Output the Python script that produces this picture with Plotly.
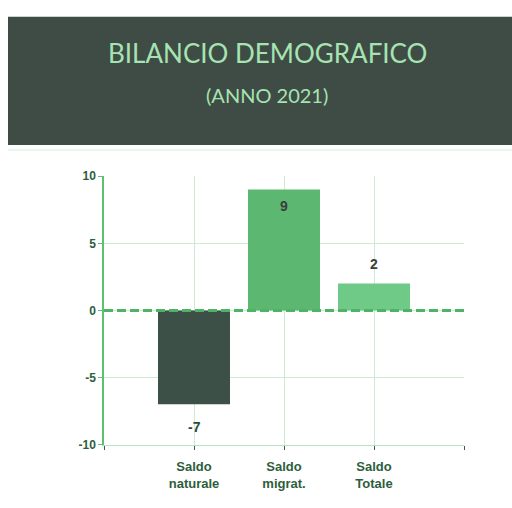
import plotly.graph_objects as go

categories = ["Saldo<br>naturale", "Saldo<br>migrat.", "Saldo<br>Totale"]
positions = [1, 2, 3]
values = [-7, 9, 2]
bar_colors = ["#3d5047", "#5cb770", "#6fca88"]
label_text = ["-7", "9", "2"]
label_shift = [-23, -16, 20]
label_colors = ["#2d4a38", "#3a3f3c", "#3a3f3c"]
y_ticks = [-10, -5, 0, 5, 10]
y_tick_text = ["-10", "-5", "0", "5", "10"]
title = "BILANCIO DEMOGRAFICO"
subtitle = "(ANNO 2021)"

fig = go.Figure()
fig.add_trace(go.Bar(
    x=positions, y=values, width=0.8,
    marker=dict(color=bar_colors, line=dict(width=0)),
    hoverinfo="skip",
))

annotations = [
    dict(text=title, xref="paper", yref="paper", x=267/512, y=1-47/508,
         showarrow=False, xanchor="center", yanchor="middle",
         font=dict(family="Lato", size=26, color="#a6e4b2")),
    dict(text=subtitle, xref="paper", yref="paper", x=267/512, y=1-90/508,
         showarrow=False, xanchor="center", yanchor="middle",
         font=dict(family="Lato", size=20, color="#a6e4b2")),
]
for xv, yv, t, s, c in zip(positions, values, label_text, label_shift, label_colors):
    annotations.append(dict(
        x=xv, y=yv, xref="x", yref="y", text=t, showarrow=False,
        yshift=s, xanchor="center", yanchor="middle",
        font=dict(family="Liberation Sans", size=14, color=c, weight="bold"),
    ))

fig.update_layout(
    width=512, height=508,
    margin=dict(l=0, r=0, t=0, b=0),
    paper_bgcolor="white", plot_bgcolor="white",
    showlegend=False,
    xaxis=dict(
        domain=[104/512, 464/512], range=[0, 4],
        tickvals=[0, 1, 2, 3, 4], ticktext=[""] + categories + [""],
        showgrid=True, gridcolor="#c9ecd2", gridwidth=1,
        showline=True, linecolor="#b9e4c4", linewidth=1,
        ticks="outside", ticklen=4, tickcolor="#3a5a46",
        ticklabelstandoff=6,
        tickfont=dict(family="Liberation Sans", size=13, color="#2d5e3c", weight="bold"),
        zeroline=False, fixedrange=True,
    ),
    yaxis=dict(
        domain=[58/508, 334/508], range=[-10, 10],
        tickvals=y_ticks, ticktext=y_tick_text,
        showgrid=True, gridcolor="#c9ecd2", gridwidth=1,
        showline=True, linecolor="#5cbf72", linewidth=1.5,
        ticks="outside", ticklen=4, tickcolor="#5cbf72",
        tickfont=dict(family="Liberation Sans", size=12, color="#2d5e3c", weight="bold"),
        zeroline=False, fixedrange=True,
    ),
    shapes=[
        dict(type="rect", xref="paper", yref="paper",
             x0=8/512, x1=1, y0=1-142/508, y1=1-10/508,
             fillcolor="#3f4b45", line=dict(width=0), layer="below"),
        dict(type="line", xref="paper", yref="paper",
             x0=8/512, x1=1, y0=1-147/508, y1=1-147/508,
             line=dict(color="#d3efd8", width=1)),
        dict(type="line", xref="x", yref="y", x0=0, x1=4, y0=0, y1=0,
             line=dict(color="#4fb364", width=3, dash="9px,4px"), layer="above"),
    ],
    annotations=annotations,
)

fig.write_html(
    "out.html",
    config={"displayModeBar": False},
    post_script="document.body.style.margin='0';document.body.style.overflow='hidden';",
)
